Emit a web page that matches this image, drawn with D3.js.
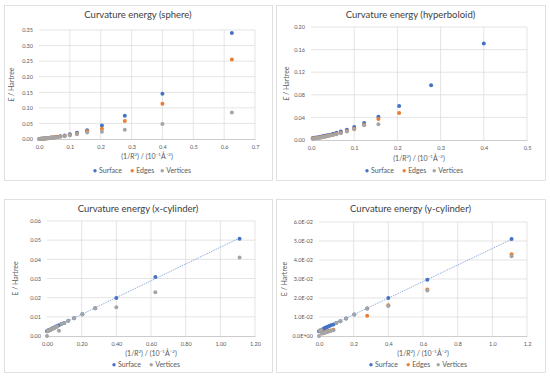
<!DOCTYPE html>
<html lang="en">
<head>
    <meta charset="UTF-8">
    <title>Curvature energy</title>
    <script src="https://d3js.org/d3.v7.min.js"></script>
    <style>
        body { margin: 0; background: #fff; }
        svg { font-family: Lato, "Open Sans", sans-serif; }
        .grid line { stroke: #d9d9d9; stroke-width: 0.7; }
        .tick text { fill: #595959; font-size: 5.5px; }
        .title { fill: #404040; font-size: 9.5px; }
        .axis-title { fill: #595959; font-size: 7px; }
        .legend text { fill: #595959; font-size: 7px; }
    </style>
</head>
<body>
    <svg id="chart" width="550" height="379"></svg>

    <script>
        // 1/R^2 in 10^-1 A^-2
        const sphereX = [0.625, 0.4, 0.278, 0.204, 0.156, 0.123, 0.1, 0.083, 0.069, 0.059, 0.051, 0.044, 0.039, 0.035, 0.031, 0.028, 0.025, 0.021, 0.017, 0.012, 0.008, 0.004, 0.001];
        const sphereSurface = [0.340, 0.145, 0.075, 0.043, 0.028, 0.020, 0.015, 0.011, 0.009, 0.007, 0.006, 0.005, 0.0045, 0.004, 0.0035, 0.003, 0.0027, 0.0023, 0.0019, 0.0014, 0.0010, 0.0006, 0.0003];
        const sphereEdges = [0.255, 0.113, 0.058, 0.033, 0.025, 0.017, 0.013, 0.010, 0.008, 0.0065, 0.0055, 0.0045, 0.004, 0.0035, 0.003, 0.0027, 0.0024, 0.002, 0.0016, 0.0012, 0.0009, 0.0005, 0.0002];
        const sphereVertices = [0.085, 0.048, 0.030, 0.023, 0.021, 0.015, 0.012, 0.009, 0.007, 0.006, 0.005, 0.004, 0.0036, 0.0032, 0.0028, 0.0025, 0.0022, 0.0018, 0.0015, 0.0011, 0.0008, 0.0004, 0.0002];

        const hyperX = [0.4, 0.278, 0.204, 0.156, 0.123, 0.1, 0.083, 0.069, 0.059, 0.051, 0.044, 0.039, 0.035, 0.031, 0.028, 0.025, 0.021, 0.017, 0.012, 0.008, 0.004];
        const hyperSurface = [0.171, 0.097, 0.060, 0.041, 0.030, 0.023, 0.018, 0.015, 0.013, 0.011, 0.0095, 0.0085, 0.0078, 0.007, 0.0065, 0.006, 0.0055, 0.005, 0.0045, 0.004, 0.0035];
        const hyperEdges = [null, null, 0.048, 0.037, 0.027, 0.020, 0.016, 0.013, 0.011, 0.0095, 0.0082, 0.0073, 0.0066, 0.006, 0.0055, 0.005, 0.0045, 0.004, 0.0035, 0.003, 0.0025];
        const hyperVertices = [null, null, null, 0.028, 0.026, 0.019, 0.015, 0.012, 0.010, 0.009, 0.0078, 0.007, 0.0063, 0.0057, 0.0052, 0.0047, 0.0042, 0.0037, 0.0032, 0.0027, 0.0022];

        const cylX = [1.111, 0.625, 0.4, 0.278, 0.204, 0.156, 0.123, 0.1, 0.083, 0.069, 0.059, 0.051, 0.044, 0.039, 0.035, 0.031, 0.028, 0.025, 0.021, 0.017, 0.012, 0.008, 0.004, 0];
        const xCylSurface = [0.0508, 0.0308, 0.0198, 0.0145, 0.0113, 0.0093, 0.0079, 0.0068, 0.0062, 0.0056, 0.0052, 0.0048, 0.0045, 0.0043, 0.0041, 0.0039, 0.0038, 0.0036, 0.0034, 0.0033, 0.0031, 0.0029, 0.0027, 0.0025];
        const xCylVertices = [0.041, 0.0228, 0.015, 0.0145, 0.0113, 0.0093, 0.0079, 0.0068, 0.0062, 0.0027, 0.0050, 0.0046, 0.0043, 0.0041, 0.0039, 0.0038, 0.0036, 0.0034, 0.0033, 0.0031, 0.0029, 0.0027, 0.0025, 0.0];
        const yCylSurface = [0.051, 0.0296, 0.0200, 0.0145, 0.0113, 0.0092, 0.0078, 0.0068, 0.0061, 0.0056, 0.0052, 0.0049, 0.0046, 0.0044, 0.0042, 0.0040, 0.0038, 0.0036, 0.0034, 0.0032, 0.0030, 0.0028, 0.0027, 0.0025];
        const yCylEdges = [0.043, 0.0245, 0.0162, 0.0107, null, null, null, null, 0.0033, 0.0029, 0.0027, 0.0025, 0.0023, 0.0022, 0.0021, 0.0019, 0.0018, 0.0017, 0.0016, 0.0015, null, null, null, null];
        const yCylVertices = [0.042, 0.0240, 0.0158, 0.0145, 0.0113, 0.0092, 0.0078, 0.0068, 0.0030, 0.0027, 0.0025, 0.0023, 0.0021, 0.0020, 0.0019, 0.0017, 0.0016, 0.0015, 0.0014, 0.0013, 0.0031, 0.0029, 0.0027, 0.0];

        const colors = { Surface: "#4472c4", Edges: "#ed7d31", Vertices: "#a5a5a5" };

        const svg = d3.select("#chart");

        function drawPanel(p) {
            const g = svg.append("g");
            g.append("rect").attr("x", p.box[0] + 0.5).attr("y", p.box[1] + 0.5)
                .attr("width", p.box[2]).attr("height", p.box[3])
                .attr("fill", "#fff").attr("stroke", "#d9d9d9").attr("stroke-width", 0.8);

            const x = d3.scaleLinear().domain(p.xDomain).range([p.left, p.right]);
            const y = d3.scaleLinear().domain(p.yDomain).range([p.bottom, p.top]);

            // gridlines
            g.append("g").attr("class", "grid").selectAll("line").data(p.yTicks.slice(1)).join("line")
                .attr("x1", p.left).attr("x2", p.right).attr("y1", d => y(d)).attr("y2", d => y(d));
            g.append("g").attr("class", "grid").selectAll("line").data(p.xTicks.slice(1)).join("line")
                .attr("y1", p.top).attr("y2", p.bottom).attr("x1", d => x(d)).attr("x2", d => x(d));

            const xAxis = g.append("g").attr("transform", `translate(0,${p.bottom})`)
                .call(d3.axisBottom(x).tickValues(p.xTicks).tickFormat(p.xFormat).tickSize(0).tickPadding(6));
            xAxis.select(".domain").attr("stroke", "#bfbfbf").attr("stroke-width", 0.8);
            const yAxis = g.append("g").attr("transform", `translate(${p.left},0)`)
                .call(d3.axisLeft(y).tickValues(p.yTicks).tickFormat(p.yFormat).tickSize(0).tickPadding(6));
            yAxis.select(".domain").remove();
            g.selectAll(".tick text").attr("font-family", "Lato, sans-serif");

            // title
            g.append("text").attr("class", "title").attr("text-anchor", "middle")
                .attr("x", p.box[0] + p.box[2] / 2).attr("y", p.titleY).text(p.title);

            // x axis title
            const xt = g.append("text").attr("class", "axis-title").attr("text-anchor", "middle")
                .attr("x", (p.left + p.right) / 2).attr("y", p.xTitleY);
            xt.append("tspan").text("(1/");
            xt.append("tspan").attr("font-style", "italic").text("R");
            xt.append("tspan").attr("font-size", "4.5px").attr("dy", -3).text("2");
            xt.append("tspan").attr("dy", 3).text(") / (10");
            xt.append("tspan").attr("font-size", "4.5px").attr("dy", -3).text("−1");
            xt.append("tspan").attr("dy", 3).text("Å");
            xt.append("tspan").attr("font-size", "4.5px").attr("dy", -3).text("−2");
            xt.append("tspan").attr("dy", 3).text(")");

            // y axis title
            const yt = g.append("text").attr("class", "axis-title").attr("text-anchor", "middle")
                .attr("transform", `translate(${p.yTitleX},${(p.top + p.bottom) / 2}) rotate(-90)`);
            yt.append("tspan").attr("font-style", p.italicE ? "italic" : "normal").text("E");
            yt.append("tspan").text(" / Hartree");

            // trendline from surface series
            if (p.trend) {
                const pts = p.x.map((v, i) => [v, p.series[0].values[i]]).filter(d => d[1] != null);
                const mx = d3.mean(pts, d => d[0]), my = d3.mean(pts, d => d[1]);
                const slope = d3.sum(pts, d => (d[0] - mx) * (d[1] - my)) / d3.sum(pts, d => (d[0] - mx) ** 2);
                const icpt = my - slope * mx;
                const x0 = 0, x1 = d3.max(p.x);
                g.append("line")
                    .attr("x1", x(x0)).attr("y1", y(icpt + slope * x0))
                    .attr("x2", x(x1)).attr("y2", y(icpt + slope * x1))
                    .attr("stroke", "#6f94d4").attr("stroke-width", 0.9).attr("stroke-dasharray", "1,1");
            }

            // points
            p.series.forEach(s => {
                const pts = p.x.map((v, i) => [v, s.values[i]]).filter(d => d[1] != null);
                g.append("g").selectAll("circle").data(pts).join("circle")
                    .attr("cx", d => x(d[0])).attr("cy", d => y(d[1])).attr("r", 2)
                    .attr("fill", colors[s.name]);
            });

            // legend
            const names = p.series.map(s => s.name);
            const widths = names.map(n => n.length * 3.6 + 12);
            const total = d3.sum(widths);
            let cx = (p.left + p.right) / 2 - total / 2;
            const leg = g.append("g").attr("class", "legend");
            names.forEach((n, i) => {
                leg.append("circle").attr("cx", cx + 2).attr("cy", p.legendY - 2.3).attr("r", 1.7).attr("fill", colors[n]);
                leg.append("text").attr("x", cx + 6).attr("y", p.legendY).text(n);
                cx += widths[i];
            });
        }

        const fmt2 = d3.format(".2f"), fmt1 = d3.format(".1f");
        const sci = d => d === 0 ? "0.0E+00" : d3.format(".1e")(d).replace("e-", "E-0");

        drawPanel({
            box: [4, 5, 268, 175], title: "Curvature energy (sphere)", titleY: 18,
            left: 39, right: 255, top: 30, bottom: 139, xTitleY: 159, legendY: 173, yTitleX: 14, italicE: true,
            xDomain: [0, 0.7], yDomain: [0, 0.35],
            xTicks: [0, 0.1, 0.2, 0.3, 0.4, 0.5, 0.6, 0.7], yTicks: [0, 0.05, 0.1, 0.15, 0.2, 0.25, 0.3, 0.35],
            xFormat: fmt1, yFormat: fmt2,
            x: sphereX,
            series: [{ name: "Surface", values: sphereSurface }, { name: "Edges", values: sphereEdges }, { name: "Vertices", values: sphereVertices }]
        });

        drawPanel({
            box: [276, 5, 269, 175], title: "Curvature energy (hyperboloid)", titleY: 18,
            left: 311, right: 527, top: 27, bottom: 140, xTitleY: 161, legendY: 173, yTitleX: 289, italicE: true,
            xDomain: [0, 0.5], yDomain: [0, 0.2],
            xTicks: [0, 0.1, 0.2, 0.3, 0.4, 0.5], yTicks: [0, 0.04, 0.08, 0.12, 0.16, 0.2],
            xFormat: fmt1, yFormat: fmt2,
            x: hyperX,
            series: [{ name: "Surface", values: hyperSurface }, { name: "Edges", values: hyperEdges }, { name: "Vertices", values: hyperVertices }]
        });

        drawPanel({
            box: [4, 199, 268, 173], title: "Curvature energy  (x-cylinder)", titleY: 212,
            left: 47, right: 255, top: 221, bottom: 336, xTitleY: 356, legendY: 367, yTitleX: 18, italicE: false,
            xDomain: [0, 1.2], yDomain: [0, 0.06],
            xTicks: [0, 0.2, 0.4, 0.6, 0.8, 1.0, 1.2], yTicks: [0, 0.01, 0.02, 0.03, 0.04, 0.05, 0.06],
            xFormat: fmt2, yFormat: fmt2, trend: true,
            x: cylX,
            series: [{ name: "Surface", values: xCylSurface }, { name: "Vertices", values: xCylVertices }]
        });

        drawPanel({
            box: [276, 199, 269, 173], title: "Curvature energy (y-cylinder)", titleY: 212,
            left: 319, right: 527, top: 222, bottom: 336, xTitleY: 356, legendY: 367, yTitleX: 287, italicE: false,
            xDomain: [0, 1.2], yDomain: [0, 0.06],
            xTicks: [0, 0.2, 0.4, 0.6, 0.8, 1.0, 1.2], yTicks: [0, 0.01, 0.02, 0.03, 0.04, 0.05, 0.06],
            xFormat: fmt1, yFormat: sci, trend: true,
            x: cylX,
            series: [{ name: "Surface", values: yCylSurface }, { name: "Edges", values: yCylEdges }, { name: "Vertices", values: yCylVertices }]
        });
    </script>
</body>
</html>
